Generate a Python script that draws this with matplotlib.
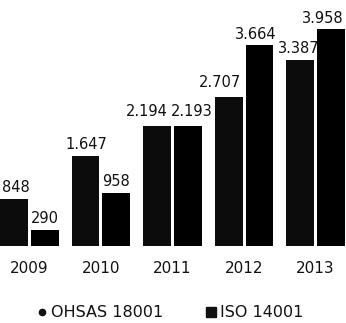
import matplotlib
matplotlib.use("Agg")
import matplotlib.pyplot as plt
from matplotlib.lines import Line2D
import numpy as np

years = ["2009", "2010", "2011", "2012", "2013"]
ohsas = [848, 1647, 2194, 2707, 3387]
iso = [290, 958, 2193, 3664, 3958]
series_names = ["OHSAS 18001", "ISO 14001"]

# label nudges in pixels (dx, dy) so neighbouring value labels stay readable
ohsas_nudge = [(2, 7), (0.5, 7), (-10.5, 10), (-9, 10), (-1, 7)]
iso_nudge = [(0, 7), (0, 7), (3.5, 10), (-3.5, 6), (-8.5, 6)]


def dotted_thousands(v):
    return f"{v:,}".replace(",", ".")


plt.rcParams["font.family"] = ["DejaVu Sans"]

fig = plt.figure(figsize=(3.46, 3.23), dpi=100)
ax = fig.add_axes([0, 77 / 323, 345 / 346, 246 / 323])

x = np.arange(len(years))
width = 0.39
offset = 0.216

ax.bar(x - offset, ohsas, width, color="#0c0c0c", zorder=2)
ax.bar(x + offset, iso, width, color="#000000", zorder=2)

for xs, vals, nudges in ((x - offset, ohsas, ohsas_nudge),
                         (x + offset, iso, iso_nudge)):
    for xi, v, (dx, dy) in zip(xs, vals, nudges):
        ax.annotate(dotted_thousands(v), (xi, v), xytext=(dx, dy),
                    textcoords="offset pixels", ha="center", va="baseline",
                    fontsize=10.5, color="#111111", zorder=1,
                    annotation_clip=False)

ax.set_xlim(x[0] - offset - width / 2, x[-1] + offset + width / 2)
ax.set_ylim(0, 4481)
ax.set_xticks(x)
ax.set_xticklabels(years, fontsize=11, color="#111111")
ax.tick_params(axis="x", length=0, pad=11)
ax.set_yticks([])
for s in ax.spines.values():
    s.set_visible(False)

handles = [
    Line2D([], [], linestyle="none", marker="o", markersize=4.5, color="#111111"),
    Line2D([], [], linestyle="none", marker="s", markersize=6.5, color="#111111"),
]
fig.legend(handles, series_names, loc="center", bbox_to_anchor=(0.494, 0.031),
           ncol=2, frameon=False, fontsize=11.5, handlelength=0.5,
           handletextpad=0.3, columnspacing=2.75, labelcolor="#111111",
           borderpad=0, borderaxespad=0)

fig.savefig("out.png", dpi=100)
